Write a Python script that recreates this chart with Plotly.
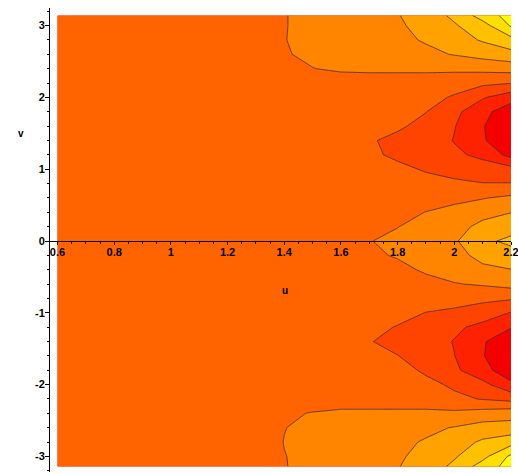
import numpy as np
import plotly.graph_objects as go

# grid (u across, v down the rows)
u_vals = [0.6, 1.0, 1.3, 1.4, 1.5, 1.6, 1.7, 1.8, 1.9, 2.0, 2.1, 2.2]
v_vals = [-3.1416, -3.0, -2.8, -2.6, -2.4, -2.2, -2.0, -1.8, -1.6, -1.4, -1.2, -1.0,
          -0.8, -0.6, -0.4, -0.2, 0.0, 0.2, 0.4, 0.6, 0.8, 1.0, 1.2, 1.4, 1.6, 1.8,
          2.0, 2.2, 2.4, 2.6, 2.8, 3.0, 3.1416]

# estimated band values (band index: 0 = red ... 8 = yellow)
z_lower = [
    [3.5, 3.5, 3.5, 3.97, 4.2, 4.46, 4.71, 4.95, 5.5, 6.2, 7.45, 8.4],   # -pi
    [3.5, 3.5, 3.5, 3.98, 4.2, 4.42, 4.65, 4.85, 5.35, 5.9, 6.7, 8.2],   # -3.0
    [3.5, 3.5, 3.5, 4.02, 4.2, 4.4, 4.6, 4.8, 5.08, 5.55, 6.15, 6.6],    # -2.8
    [3.5, 3.5, 3.5, 3.98, 4.2, 4.35, 4.5, 4.65, 4.8, 5.05, 5.4, 5.4],    # -2.6
    [3.5, 3.5, 3.5, 3.85, 4.05, 4.2, 4.2, 4.2, 4.2, 4.2, 4.4, 4.6],      # -2.4
    [3.5, 3.5, 3.5, 3.5, 3.5, 3.5, 3.5, 3.5, 3.5, 3.2, 2.95, 2.7],       # -2.2
    [3.5, 3.5, 3.5, 3.5, 3.5, 3.5, 3.5, 3.5, 3.25, 2.85, 2.3, 1.2],      # -2.0
    [3.5, 3.5, 3.5, 3.5, 3.5, 3.5, 3.45, 3.35, 2.85, 2.2, 1.3, 0.45],    # -1.8
    [3.5, 3.5, 3.5, 3.5, 3.5, 3.5, 3.25, 3.02, 2.6, 2.02, 1.05, 0.3],    # -1.6
    [3.5, 3.5, 3.5, 3.5, 3.5, 3.5, 3.05, 2.7, 2.5, 1.95, 1.1, 0.3],      # -1.4
    [3.5, 3.5, 3.5, 3.5, 3.5, 3.5, 3.25, 2.95, 2.6, 2.2, 1.7, 1.05],     # -1.2
    [3.5, 3.5, 3.5, 3.5, 3.5, 3.5, 3.4, 3.3, 2.98, 2.85, 2.55, 1.95],    # -1.0
    [3.5, 3.5, 3.5, 3.5, 3.5, 3.5, 3.5, 3.45, 3.4, 3.3, 3.2, 3.1],       # -0.8
    [3.5, 3.5, 3.5, 3.5, 3.5, 3.5, 3.5, 3.55, 3.65, 3.95, 4.1, 4.35],    # -0.6
    [3.5, 3.5, 3.5, 3.5, 3.5, 3.5, 3.6, 3.7, 4.15, 4.4, 4.75, 4.98],     # -0.4
    [3.5, 3.5, 3.5, 3.5, 3.5, 3.5, 3.8, 4.1, 4.35, 4.6, 5.35, 5.55],     # -0.2
]
z_middle = [
    [3.5, 3.5, 3.5, 3.5, 3.5, 3.5, 3.97, 4.2, 4.5, 4.88, 5.75, 6.25],    # 0
]
z_upper = [
    [3.5, 3.5, 3.5, 3.5, 3.5, 3.5, 3.75, 3.98, 4.3, 4.55, 5.33, 5.55],   # 0.2
    [3.5, 3.5, 3.5, 3.5, 3.5, 3.5, 3.6, 3.7, 4.02, 4.3, 4.6, 4.98],      # 0.4
    [3.5, 3.5, 3.5, 3.5, 3.5, 3.5, 3.5, 3.55, 3.6, 3.75, 3.95, 4.2],     # 0.6
    [3.5, 3.5, 3.5, 3.5, 3.5, 3.5, 3.5, 3.45, 3.35, 3.2, 3.03, 3.04],    # 0.8
    [3.5, 3.5, 3.5, 3.5, 3.5, 3.5, 3.4, 3.25, 2.9, 2.6, 2.5, 2.33],      # 1.0
    [3.5, 3.5, 3.5, 3.5, 3.5, 3.5, 3.2, 2.8, 2.5, 2.2, 1.75, 0.67],      # 1.2
    [3.5, 3.5, 3.5, 3.5, 3.5, 3.5, 3.1, 2.75, 2.6, 1.95, 1.1, 0.3],      # 1.4
    [3.5, 3.5, 3.5, 3.5, 3.5, 3.5, 3.3, 3.15, 2.7, 2.05, 1.05, 0.3],     # 1.6
    [3.5, 3.5, 3.5, 3.5, 3.5, 3.5, 3.45, 3.4, 3.02, 2.25, 1.3, 0.4],     # 1.8
    [3.5, 3.5, 3.5, 3.5, 3.5, 3.5, 3.5, 3.5, 3.3, 2.9, 2.1, 1.4],        # 2.0
    [3.5, 3.5, 3.5, 3.5, 3.5, 3.5, 3.5, 3.5, 3.5, 3.4, 3.2, 3.03],       # 2.2
    [3.5, 3.5, 3.5, 3.6, 3.98, 4.15, 4.2, 4.2, 4.2, 4.2, 4.27, 4.38],    # 2.4
    [3.5, 3.5, 3.5, 3.93, 4.18, 4.35, 4.5, 4.65, 4.8, 5.05, 5.35, 5.67], # 2.6
    [3.5, 3.5, 3.5, 3.98, 4.2, 4.4, 4.6, 4.8, 5.08, 5.55, 6.1, 6.67],    # 2.8
    [3.5, 3.5, 3.5, 3.97, 4.2, 4.42, 4.65, 4.85, 5.35, 5.9, 6.6, 8.1],   # 3.0
    [3.5, 3.5, 3.5, 3.97, 4.2, 4.46, 4.71, 4.95, 5.5, 6.2, 7.45, 8.4],   # pi
]

band_colors = ["#f50000", "#ff2200", "#ff4400", "#ff6400", "#ff8400",
               "#ffa200", "#ffc000", "#ffdf00", "#ffff00"]

x_tick_vals = [0.6, 0.8, 1.0, 1.2, 1.4, 1.6, 1.8, 2.0, 2.2]
x_tick_text = ["0.6", "0.8", "1", "1.2", "1.4", "1.6", "1.8", "2", "2.2"]
y_tick_vals = [-3, -2, -1, 0, 1, 2, 3]
y_tick_text = ["-3", "-2", "-1", "0", "1", "2", "3"]

z = z_lower + z_middle + z_upper
n = len(band_colors) - 1
colorscale = [[i / n, c] for i, c in enumerate(band_colors)]

fig = go.Figure(go.Contour(
    x=u_vals, y=v_vals, z=z,
    colorscale=colorscale, showscale=False,
    contours=dict(start=1, end=8, size=1, coloring="fill", showlines=True),
    line=dict(color="#4a2c2c", width=0.8, smoothing=0),
    hoverinfo="skip",
))

x_range = [0.57, 2.2]
y_range = [-3.217, 3.245]
x_axis_pos = (0 - y_range[0]) / (y_range[1] - y_range[0])

tick_font = dict(family="Liberation Sans, Arial, sans-serif", size=11, color="black", weight="bold")
label_font = dict(family="Liberation Sans, Arial, sans-serif", size=10, color="black")

# plot area: 462 x 464 px
fig.update_layout(
    width=518, height=473,
    margin=dict(l=49, r=7, t=8, b=1, autoexpand=False),
    paper_bgcolor="white", plot_bgcolor="white",
    xaxis=dict(range=x_range, anchor="free", position=x_axis_pos, side="bottom",
               automargin=False, ticklabeloverflow="allow",
               showline=True, linecolor="black", linewidth=1,
               showgrid=False, zeroline=False,
               ticks="outside", ticklen=3, tickcolor="black", tickwidth=1,
               tickmode="array", tickvals=x_tick_vals, ticktext=x_tick_text,
               tickfont=tick_font, ticklabelstandoff=-2,
               minor=dict(ticks="outside", ticklen=2, tickcolor="black",
                          tickmode="array", tickvals=list(np.round(np.arange(0.6, 2.2001, 0.05), 3)))),
    yaxis=dict(range=y_range, anchor="free", position=0,
               automargin=False, ticklabeloverflow="allow",
               showline=True, linecolor="black", linewidth=1,
               showgrid=False, zeroline=False,
               ticks="outside", ticklen=4, tickcolor="black", tickwidth=1,
               tickmode="array", tickvals=y_tick_vals, ticktext=y_tick_text,
               tickfont=tick_font, ticklabelstandoff=-2,
               minor=dict(ticks="outside", ticklen=2, tickcolor="black",
                          tickmode="array", tickvals=list(np.round(np.arange(-3.2, 3.2001, 0.2), 3)))),
    annotations=[
        dict(text="<b>v</b>", x=(16 - 49) / 462, y=(472 - 126) / 464, xref="paper", yref="paper",
             showarrow=False, font=label_font),
        dict(text="<b>u</b>", x=(285 - 49) / 462, y=(472 - 290) / 464, xref="paper", yref="paper",
             showarrow=False, font=label_font),
    ],
)

fig.write_html("out.html",
               config={"displayModeBar": False},
               post_script="document.body.style.margin='0px';document.body.style.overflow='hidden';")
